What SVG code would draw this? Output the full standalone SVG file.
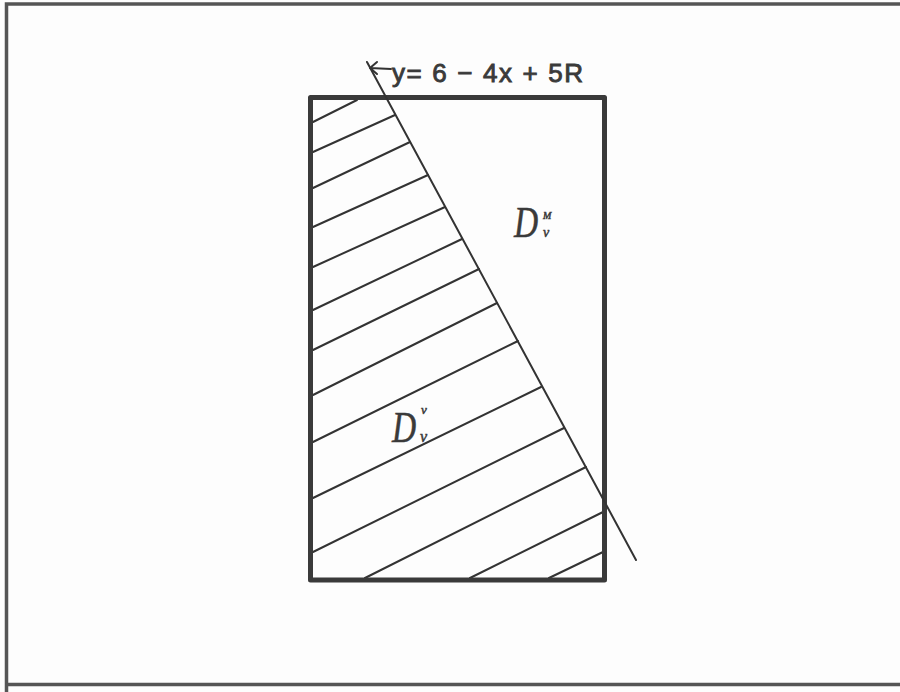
<svg xmlns="http://www.w3.org/2000/svg" width="900" height="692" viewBox="0 0 900 692">
  <defs>
    <style>
      .frame { fill: none; stroke: #555; stroke-width: 3.5; }
      .box { fill: none; stroke: #3a3a3a; stroke-width: 5; stroke-linejoin: round; }
      .hatch { stroke: #333; stroke-width: 2; stroke-linecap: round; fill: none; }
      .line { stroke: #333; stroke-width: 2; stroke-linecap: round; stroke-linejoin: round; fill: none; }
      .eq { font-family: "Liberation Sans", "DejaVu Sans", sans-serif; font-size: 26px; fill: #3a3a3a; stroke: #3a3a3a; stroke-width: 0.9; }
      .dl { font-family: "Liberation Serif", serif; font-style: italic; fill: #3a3a3a; stroke: #3a3a3a; stroke-width: 0.5; }
    </style>
  </defs>
  <rect x="0" y="0" width="900" height="692" fill="#fdfdfd"/>
  <g id="frame">
    <path class="frame" d="M6.5,692 L6.5,4 L900,4 M6.5,684.5 L900,684.5"/>
  </g>
  <g id="region-Dvv">
    <g class="hatch">
      <line x1="313" y1="122" x2="357" y2="100"/>
      <line x1="313" y1="152" x2="395" y2="115"/>
      <line x1="313" y1="188" x2="410" y2="142"/>
      <line x1="313" y1="227" x2="428" y2="175"/>
      <line x1="313" y1="267" x2="445" y2="207"/>
      <line x1="313" y1="310" x2="462" y2="239"/>
      <line x1="313" y1="350" x2="479" y2="269"/>
      <line x1="313" y1="395" x2="497" y2="303"/>
      <line x1="313" y1="442" x2="518" y2="341"/>
      <line x1="313" y1="498" x2="541" y2="387"/>
      <line x1="313" y1="552" x2="564" y2="428"/>
      <line x1="365" y1="578" x2="586" y2="467"/>
      <line x1="470" y1="578" x2="603" y2="512"/>
      <line x1="549" y1="578" x2="603" y2="552"/>
    </g>
    <text class="dl" transform="translate(392,442) scale(0.76,1)" font-size="44">D</text>
    <text class="dl" x="421" y="414" font-size="13">v</text>
    <text class="dl" x="420" y="442" font-size="16">v</text>
  </g>
  <g id="region-Dmv">
    <text class="dl" transform="translate(514,237) scale(0.76,1)" font-size="44">D</text>
    <text class="dl" x="543" y="219" font-size="10">M</text>
    <text class="dl" x="543" y="237" font-size="14">v</text>
  </g>
  <g id="rectangle">
    <rect class="box" x="310.5" y="97.5" width="294" height="482.5"/>
  </g>
  <g id="connectors">
    <line class="line" x1="367" y1="62" x2="636" y2="560"/>
    <path class="line" d="M370,68 L391,69 M377,62 L370,68 L377,74"/>
  </g>
  <g id="equation">
    <text class="eq" x="392" y="82" textLength="191" lengthAdjust="spacing">y= 6 − 4x + 5R</text>
  </g>
</svg>
